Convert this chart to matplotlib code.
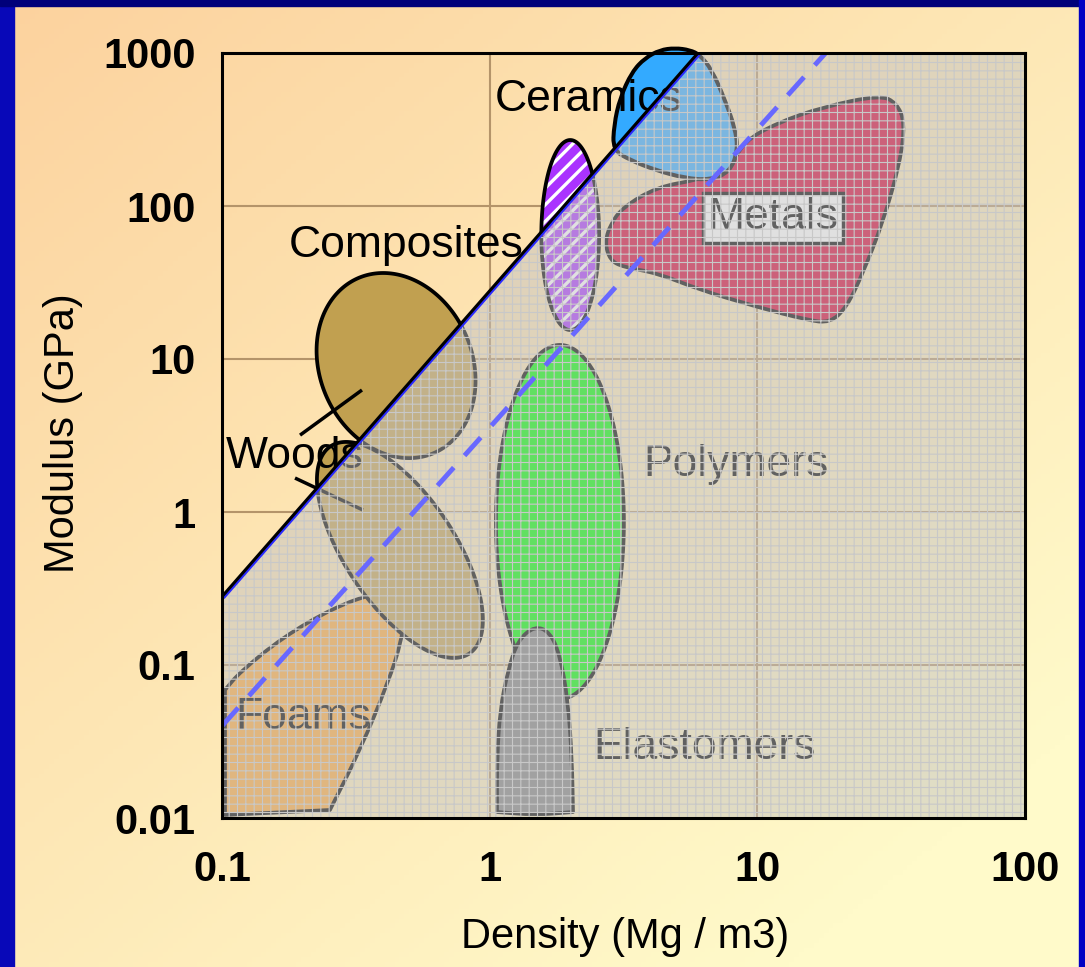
"""
Ashby chart: Young's modulus vs density, with the E/rho^2 guide line
"""
import numpy as np
import matplotlib.pyplot as plt
from matplotlib.patches import Polygon, PathPatch, Rectangle
from matplotlib.path import Path
from matplotlib.ticker import NullLocator
import matplotlib.patheffects as pe

# axis ticks
x_ticks = [0.1, 1, 10, 100]
x_tick_labels = ['0.1', '1', '10', '100']
y_ticks = [0.01, 0.1, 1, 10, 100, 1000]
y_tick_labels = ['0.01', '0.1', '1', '10', '100', '1000']

# outlines (density Mg/m3, modulus GPa)
# a repeated point gives a sharp corner
foams_rho = [0.1026, 0.1026, 0.1167, 0.169, 0.260, 0.373, 0.443, 0.483, 0.470, 0.417, 0.328,
             0.253, 0.253, 0.1026, 0.1026]
foams_E = [0.0687, 0.0687, 0.0900, 0.152, 0.236, 0.296, 0.291, 0.236, 0.146, 0.0763, 0.0278,
           0.01128, 0.01128, 0.01047, 0.01047]

elast_rho = [1.065, 1.065, 1.065, 1.093, 1.171, 1.276, 1.476, 1.680, 1.830, 1.961, 2.030,
             2.048, 2.048, 1.476]
elast_E = [0.01094, 0.01094, 0.0239, 0.0508, 0.0927, 0.1456, 0.180, 0.164, 0.116, 0.0590, 0.0239,
           0.01094, 0.01094, 0.01047]

ceram_rho = [2.888, 2.913, 3.067, 3.401, 3.803, 4.327, 4.922, 5.601, 6.105, 6.77, 7.57, 8.25,
             8.46, 7.90, 6.65, 5.37, 4.145, 3.342]
ceram_E = [232, 338, 508, 752, 927, 1046, 1078, 1046, 971, 774, 493, 324,
           232, 167, 148, 152, 172, 200]

metal_rho = [2.696, 2.814, 3.148, 4.217, 5.95, 7.90, 8.84, 11.84, 17.6, 28.7, 33.2, 35.6,
             34.1, 29.4, 24.8, 21.6, 18.7, 15.3, 9.97, 6.105, 4.217, 3.148, 2.814]
metal_E = [57.3, 75.2, 98.4, 133, 148, 172, 262, 349, 444, 531, 471, 349,
           191, 77.4, 36.5, 21.9, 17.2, 18.0, 21.9, 28.3, 36.5, 39.9, 44.4]

# ellipses: centre density, centre modulus, half width / half height (decades), tilt
composites_ell = (0.447, 9.06, 0.297, 0.605, -0.163)
woods_ell = (0.462, 0.565, 0.310, 0.706, -0.705)
polymers_ell = (1.83, 0.861, 0.239, 1.157, 0.0)
glass_ell = (2.0, 64.6, 0.108, 0.621, 0.0)

# pointer lines from the Woods label
woods_ptr1_rho = [0.1957, 0.3334]
woods_ptr1_E = [3.18, 6.27]
woods_ptr2_rho = [0.1874, 0.3362]
woods_ptr2_E = [1.667, 1.03]

# guide lines
guide_rho = [0.1, 6.0]
guide_E = [0.28, 1000]
dash_rho = [0.1, 18.0]
dash_E = [0.04, 1000]

# labels
labels = ['Ceramics', 'Composites', 'Woods', 'Polymers', 'Metals', 'Elastomers', 'Foams']
label_rho = [2.35, 0.486, 0.1035, 8.32, 11.4, 6.37, 0.201]
label_E = [493, 55.6, 2.29, 2.03, 83.6, 0.0291, 0.0457]


def smooth_path(xs, ys):
    lp = np.log10(np.column_stack([xs, ys]))
    mids = (lp + np.roll(lp, -1, axis=0)) / 2
    verts = [mids[-1]]
    codes = [Path.MOVETO]
    for i in range(len(lp)):
        verts += [lp[i], mids[i]]
        codes += [Path.CURVE3, Path.CURVE3]
    verts.append(mids[-1])
    codes.append(Path.CLOSEPOLY)
    return Path(10 ** np.array(verts), codes)


def ellipse_pts(c_rho, c_E, rx, ry, phi):
    t = np.linspace(0, 2 * np.pi, 240)
    lx = np.log10(c_rho) + rx * np.cos(t)
    ly = np.log10(c_E) + ry * np.sin(t + phi)
    return np.column_stack([10 ** lx, 10 ** ly])


plt.rcParams['font.family'] = ['Liberation Sans', 'DejaVu Sans']

fig = plt.figure(figsize=(10.85, 9.67), dpi=100)

# background gradient + blue frame
bg = fig.add_axes([0, 0, 1, 1], zorder=-5)
H, W = 200, 220
u = np.linspace(0, 1, W)[None, :]
v = np.linspace(0, 1, H)[:, None]
t = np.clip(0.55 * u + 0.6 * v, 0, 1)[..., None]
c0 = np.array([252, 210, 158]) / 255
c1 = np.array([255, 250, 202]) / 255
bg.imshow(c0 * (1 - t) + c1 * t, extent=[0, 1, 0, 1], aspect='auto', origin='upper')
bg.add_patch(Rectangle((0, 0), 14 / 1085, 1, color='#0808b8', transform=bg.transAxes))
bg.add_patch(Rectangle((0, 1 - 6 / 967), 1, 6 / 967, color='#00007a', transform=bg.transAxes))
bg.add_patch(Rectangle((1079 / 1085, 0), 6 / 1085, 1, color='#0000c4', transform=bg.transAxes))
bg.set_xlim(0, 1)
bg.set_ylim(0, 1)
bg.axis('off')

ax = fig.add_axes([222 / 1085, 1 - 818 / 967, 803 / 1085, 765 / 967])
ax.set_xscale('log')
ax.set_yscale('log')
ax.set_xlim(0.1, 100)
ax.set_ylim(0.01, 1000)
ax.patch.set_alpha(0)

# decade grid lines
for yv in [0.1, 1, 10, 100]:
    ax.axhline(yv, color='#b4946a', lw=1.5, zorder=1)
for xv in [1, 10]:
    ax.axvline(xv, color='#b4946a', lw=1.5, zorder=1)

edge = dict(edgecolor='black', linewidth=2.7, joinstyle='round', zorder=2)

ax.add_patch(PathPatch(smooth_path(foams_rho, foams_E), facecolor='#ffaa3c', **edge))
ax.add_patch(Polygon(ellipse_pts(*woods_ell), facecolor='#c1a050', **edge))
ax.add_patch(Polygon(ellipse_pts(*composites_ell), facecolor='#c1a050', **edge))
ax.add_patch(Polygon(ellipse_pts(*polymers_ell), facecolor='#00ff00', **edge))
ax.add_patch(PathPatch(smooth_path(elast_rho, elast_E), facecolor='#808080', **edge))
ax.add_patch(PathPatch(smooth_path(metal_rho, metal_E), facecolor='#d70032', **edge))
ax.add_patch(PathPatch(smooth_path(ceram_rho, ceram_E), facecolor='#33aaff',
                       clip_on=False, **dict(edge, linewidth=2.9)))

# glass: purple with white stripes
with plt.rc_context({'hatch.linewidth': 2.4}):
    ax.add_patch(Polygon(ellipse_pts(*glass_ell), facecolor='#aa33ff', edgecolor='white',
                         hatch='//', linewidth=0, zorder=2))
ax.add_patch(Polygon(ellipse_pts(*glass_ell), facecolor='none', **edge))

ax.plot(woods_ptr1_rho, woods_ptr1_E, color='black', lw=2.5, zorder=2.5, solid_capstyle='butt')
ax.plot(woods_ptr2_rho, woods_ptr2_E, color='black', lw=2.5, zorder=2.5, solid_capstyle='butt')

for name, r, e in zip(labels, label_rho, label_E):
    ha = 'left' if name == 'Woods' else 'center'
    txt = ax.text(r, e, name, fontsize=32, ha=ha, va='center', color='black', zorder=3)
    if name == 'Metals':
        txt.set_bbox(dict(boxstyle='square,pad=0.1', facecolor='white', edgecolor='black', linewidth=2.5))

# grey screen below the guide line
screen = [(0.1, 0.01), (100, 0.01), (100, 1000), (guide_rho[1], guide_E[1]), (guide_rho[0], guide_E[0])]
ax.add_patch(Polygon(screen, facecolor='#c3c3c3', alpha=0.5, linewidth=0, zorder=4))
with plt.rc_context({'hatch.linewidth': 0.8}):
    ax.add_patch(Polygon(screen, facecolor='none', edgecolor='#c8c8c8', hatch='++',
                         linewidth=0, zorder=4.5))

ax.plot(dash_rho, dash_E, color='#6868ff', lw=3.5, dashes=(5, 3.3), zorder=6)
ax.plot(guide_rho, guide_E, color='black', lw=2.2, zorder=7, solid_capstyle='butt',
        path_effects=[pe.SimpleLineShadow(offset=(1.0, -1.0), shadow_color='#2a2aff', alpha=1.0),
                      pe.Normal()])

for sp in ax.spines.values():
    sp.set_linewidth(2.2)
    sp.set_color('black')
    sp.set_zorder(10)

ax.set_xticks(x_ticks, x_tick_labels, fontweight='bold')
ax.set_yticks(y_ticks, y_tick_labels, fontweight='bold')
ax.xaxis.set_minor_locator(NullLocator())
ax.yaxis.set_minor_locator(NullLocator())
ax.tick_params(axis='both', length=0, labelsize=30)
ax.tick_params(axis='x', pad=23)
ax.tick_params(axis='y', pad=19)

ax.set_xlabel('Density (Mg / m3)', fontsize=30)
ax.set_ylabel('Modulus (GPa)', fontsize=30)
ax.xaxis.set_label_coords(0.502, -0.156)
ax.xaxis.label.set_verticalalignment('center')
ax.yaxis.set_label_coords(-0.198, 0.503)
ax.yaxis.label.set_verticalalignment('center')

fig.savefig('out.png', dpi=100)
